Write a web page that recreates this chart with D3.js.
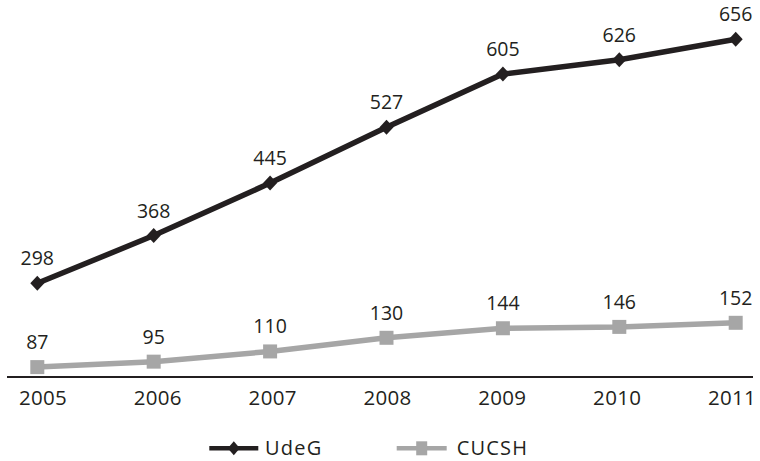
<!DOCTYPE html>
<html>
<head>
<meta charset="utf-8">
<script src="https://cdn.jsdelivr.net/npm/d3@7"></script>
<style>
  html, body { margin: 0; padding: 0; background: #ffffff; }
  svg { display: block; }
  text { font-family: "Open Sans", "DejaVu Sans", sans-serif; fill: #231f20; }
</style>
</head>
<body>
<svg id="chart" width="760" height="461"></svg>
<script>
// Academic staff counts per year
const years = ["2005", "2006", "2007", "2008", "2009", "2010", "2011"];
const udegValues = [298, 368, 445, 527, 605, 626, 656];
const cucshValues = [87, 95, 110, 130, 144, 146, 152];
const seriesNames = ["UdeG", "CUCSH"];

const W = 760, H = 461;
const svg = d3.select("#chart");

// Marker positions and a slightly narrower band for the category labels
const x = d3.scalePoint().domain(years).range([37.3, 735.7]);
const xLabels = d3.scalePoint().domain(years).range([42.5, 731.5]);

// Each series sits on its own vertical axis with identical units per pixel
const yU = d3.scaleLinear().domain([0, 700]).range([486.4, 9.3]);
const yC = d3.scaleLinear().domain([0, 700]).range([426.4, -50.7]);

const series = [
  { name: seriesNames[0], values: udegValues, y: yU, color: "#231f20", width: 5.5, marker: "diamond" },
  { name: seriesNames[1], values: cucshValues, y: yC, color: "#a6a6a6", width: 5.5, marker: "square" }
];

function markerPath(type, w, h) {
  const hw = w / 2, hh = h / 2;
  if (type === "diamond") {
    return `M0,${-hh}L${hw},0L0,${hh}L${-hw},0Z`;
  }
  return `M${-hw},${-hh}H${hw}V${hh}H${-hw}Z`;
}

// Baseline
const baseY = 377;
svg.append("line")
  .attr("x1", 7).attr("x2", 753)
  .attr("y1", baseY).attr("y2", baseY)
  .attr("stroke", "#231f20").attr("stroke-width", 2.2);

// Category labels under the baseline
const xAxis = d3.axisBottom(xLabels).tickSize(0).tickPadding(0);
const gx = svg.append("g").attr("transform", `translate(0,${baseY})`).call(xAxis);
gx.select(".domain").remove();
gx.selectAll("text")
  .attr("dy", null)
  .attr("y", 28)
  .style("font-family", "'Open Sans', 'DejaVu Sans', sans-serif")
  .style("font-size", "20.5px")
  .style("letter-spacing", "0.3px")
  .style("fill", "#231f20");

// Draw CUCSH first so UdeG stays on top
[...series].reverse().forEach(s => {
  const pts = s.values.map((v, i) => ({ year: years[i], v }));
  const line = d3.line().x(d => x(d.year)).y(d => s.y(d.v));
  const g = svg.append("g");
  g.append("path")
    .datum(pts)
    .attr("d", line)
    .attr("fill", "none")
    .attr("stroke", s.color)
    .attr("stroke-width", s.width)
    .attr("stroke-linejoin", "miter");
  g.selectAll("path.mk")
    .data(pts)
    .join("path")
    .attr("class", "mk")
    .attr("transform", d => `translate(${x(d.year)},${s.y(d.v)})`)
    .attr("d", s.marker === "diamond" ? markerPath("diamond", 14, 15) : markerPath("square", 14, 14))
    .attr("fill", s.color);
  g.selectAll("text.val")
    .data(pts)
    .join("text")
    .attr("class", "val")
    .attr("x", d => x(d.year))
    .attr("y", d => s.y(d.v) - 18)
    .attr("text-anchor", "middle")
    .style("font-size", "19.5px")
    .text(d => d.v);
});

// Legend
const legendY = 448.3;
const legendItems = [
  { s: series[0], x0: 209.3, x1: 258.3, tx: 265 },
  { s: series[1], x0: 396.7, x1: 446.7, tx: 456.7 }
];
legendItems.forEach(item => {
  const g = svg.append("g");
  g.append("line")
    .attr("x1", item.x0).attr("x2", item.x1)
    .attr("y1", legendY).attr("y2", legendY)
    .attr("stroke", item.s.color).attr("stroke-width", 4.5);
  g.append("path")
    .attr("transform", `translate(${(item.x0 + item.x1) / 2},${legendY})`)
    .attr("d", item.s.marker === "diamond" ? markerPath("diamond", 12, 14) : markerPath("square", 11, 14))
    .attr("fill", item.s.color);
  g.append("text")
    .attr("x", item.tx)
    .attr("y", 455)
    .style("font-size", "20px")
    .style("letter-spacing", "1.2px")
    .text(item.s.name);
});
</script>
</body>
</html>
